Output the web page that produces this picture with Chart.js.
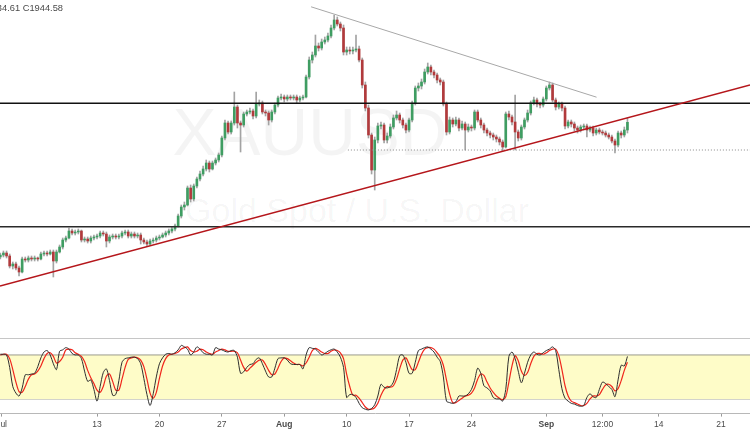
<!DOCTYPE html>
<html><head><meta charset="utf-8">
<script src="https://cdn.jsdelivr.net/npm/chart.js@4.4.0/dist/chart.umd.min.js"></script>
<style>
html,body{margin:0;padding:0;background:#fff;width:750px;height:430px;overflow:hidden;position:relative;font-family:"Liberation Sans",Arial,sans-serif}
.wm{position:absolute;left:0;text-align:center;color:rgba(0,0,0,0.045);white-space:nowrap}
#wm1{top:99px;width:620px;font-size:66px;line-height:66px}
#wm2{top:193px;width:714px;font-size:34px;line-height:34px}
#hdr{position:absolute;right:687px;top:2px;font-size:9.3px;line-height:12px;color:#4a4a4a;white-space:nowrap}
#sep{position:absolute;left:0;top:338px;width:750px;height:1px;background:#c6c6c6}
#c1{position:absolute;left:0;top:0}
#c2{position:absolute;left:0;top:330px}
</style></head>
<body>
<div class="wm" id="wm1">XAUUSD</div>
<div class="wm" id="wm2">Gold Spot / U.S. Dollar</div>
<div id="sep"></div>
<canvas id="c1" width="750" height="338"></canvas>
<canvas id="c2" width="750" height="100"></canvas>
<div id="hdr">L1934.61 C1944.58</div>
<script>
// ---- data (4-hour candles, index 1..202; 4 candles per trading day) ----
const opens = [
1776.25,1778.75,1781.25,1777.5,1765,1767.5,1762.5,1757.5,1773.75,1772.5,
1775,1773.75,1775,1773.75,1780,1781.25,1780,1782.5,1771.25,1782.5,
1788.75,1797.5,1800,1808.75,1806.25,1807.5,1808.75,1797.5,1798.75,1796.25,
1800,1801.25,1802.5,1806.25,1805,1796.25,1801.25,1802.5,1801.25,1802.5,
1806.25,1807.5,1802.5,1805,1802.5,1803.75,1797.5,1795,1792.5,1796.25,
1797.5,1800,1801.25,1803.75,1806.25,1808.75,1811.25,1815,1827.5,1838.75,
1841.25,1862.5,1848.75,1865,1873.75,1880,1886.25,1893.75,1886.25,1893.75,
1897.5,1903.75,1925,1943.75,1932.5,1943.75,1963.75,1943.75,1941.25,1955,
1957.5,1958.75,1952.5,1967.5,1968.75,1957.5,1956.25,1947.5,1957.5,1966.25,
1975,1976.25,1973.75,1976.25,1975,1976.25,1972.5,1975,1976.25,2001.25,
2022.5,2028.75,2040,2037.5,2045,2047.5,2052.5,2062.5,2072.5,2067.5,
2062.5,2032.5,2035,2033.75,2035,2036.25,2022.5,1991.25,1962.5,1928.75,
1885,1922.5,1940,1941.25,1922.5,1927.5,1938.75,1950,1953.75,1947.5,
1941.25,1935,1947.5,1968.75,1987.5,1990,1995,2007.5,2013.75,2007.5,
2003.75,1997.5,1995,1967.5,1932.5,1947.5,1942.5,1947.5,1937.5,1942.5,
1935,1938.75,1937.5,1957.5,1947.5,1941.25,1935,1931.25,1928.75,1926.25,
1923.75,1920,1913.75,1955,1951.25,1945,1932.5,1925,1938.75,1947.5,
1956.25,1968.75,1972.5,1967.5,1966.25,1973.75,1987.5,1991.25,1972.5,1963.75,
1967.5,1962.5,1940,1945,1942.5,1937.5,1935,1938.75,1940,1935,
1937.5,1931.25,1935,1932.5,1931.25,1928.75,1926.25,1921.25,1916.25,1931.25,
1928.75,1935];
const highs = [
1781.25,1783.75,1783.75,1780,1770,1770,1765,1776.25,1776.25,1777.5,
1777.5,1777.5,1776.25,1782.5,1783.75,1783.75,1785,1785,1785,1791.25,
1800,1802.5,1812.5,1811.25,1810,1811.25,1810,1801.25,1801.25,1802.5,
1803.75,1805,1808.75,1808.75,1807.5,1803.75,1805,1805,1805,1808.75,
1810,1810,1807.5,1807.5,1806.25,1806.25,1800,1797.5,1798.75,1800,
1802.5,1803.75,1806.25,1808.75,1811.25,1813.75,1817.5,1830,1841.25,1845,
1865,1866.25,1867.5,1876.25,1883.75,1890,1897.5,1896.25,1896.25,1900,
1906.25,1927.5,1947.5,1946.25,1946.25,1982.5,1966.25,1946.25,1957.5,1960,
1962.5,1961.25,1982.5,1972.5,1971.25,1960,1958.75,1960,1968.75,1977.5,
1980,1978.75,1978.75,1978.75,1978.75,1978.75,1977.5,1978.75,2003.75,2026.25,
2032.5,2053.75,2043.75,2048.75,2051.25,2056.25,2066.25,2078.75,2076.25,2070,
2066.25,2038.75,2038.75,2038.75,2053.75,2040,2025,1995,1966.25,1931.25,
1926.25,1943.75,1945,1943.75,1931.25,1942.5,1953.75,1958.75,1956.25,1950,
1943.75,1950,1971.25,1990,1993.75,1998.75,2011.25,2018.75,2016.25,2010,
2006.25,2000,1997.5,1970,1951.25,1950,1951.25,1950,1946.25,1945,
1942.5,1941.25,1960,1960,1950,1943.75,1937.5,1933.75,1931.25,1928.75,
1926.25,1922.5,1957.5,1958.75,1953.75,1978.75,1935,1941.25,1950,1960,
1971.25,1976.25,1975,1970,1976.25,1990,1995,1993.75,1975,1970,
1970,1965,1947.5,1947.5,1945,1940,1941.25,1942.5,1942.5,1940,
1940,1937.5,1937.5,1935,1933.75,1931.25,1928.75,1923.75,1933.75,1933.75,
1938.75,1950];
const lows = [
1773.75,1776.25,1775,1762.5,1761.25,1760,1752.5,1756.25,1770,1770,
1771.25,1771.25,1771.25,1772.5,1777.5,1777.5,1778.75,1751.25,1768.75,1781.25,
1786.25,1795,1798.75,1803.75,1803.75,1805,1795,1795,1793.75,1793.75,
1797.5,1798.75,1800,1802.5,1788.75,1793.75,1798.75,1798.75,1798.75,1800,
1803.75,1800,1800,1800,1800,1792.5,1792.5,1790,1791.25,1793.75,
1795,1797.5,1800,1801.25,1803.75,1806.25,1808.75,1813.75,1825,1835,
1840,1845,1846.25,1862.5,1871.25,1877.5,1883.75,1882.5,1885,1891.25,
1895,1901.25,1922.5,1930,1930,1941.25,1937.5,1907.5,1938.75,1952.5,
1955,1948.75,1950,1965,1955,1952.5,1941.25,1945,1955,1963.75,
1972.5,1970,1971.25,1972.5,1972.5,1968.75,1970,1972.5,1975,1998.75,
2018.75,2026.25,2033.75,2035,2042.5,2045,2050,2060,2065,2058.75,
2028.75,2028.75,2030,2030,2032.5,2020,1987.5,1958.75,1925,1880,
1860,1918.75,1936.25,1918.75,1918.75,1925,1936.25,1947.5,1943.75,1937.5,
1931.25,1932.5,1945,1966.25,1983.75,1986.25,1992.5,2005,2003.75,2000,
1993.75,1991.25,1965,1928.75,1930,1938.75,1940,1933.75,1935,1910,
1932.5,1933.75,1935,1945,1937.5,1931.25,1927.5,1925,1922.5,1920,
1916.25,1908.75,1912.5,1947.5,1941.25,1910,1921.25,1922.5,1936.25,1945,
1953.75,1966.25,1963.75,1962.5,1963.75,1971.25,1985,1970,1960,1961.25,
1958.75,1936.25,1937.5,1938.75,1933.75,1931.25,1932.5,1935,1926.25,1932.5,
1927.5,1928.75,1930,1928.75,1926.25,1923.75,1918.75,1906.25,1913.75,1925,
1926.25,1931.25];
const closes = [
1778.75,1781.25,1777.5,1765,1767.5,1762.5,1757.5,1773.75,1772.5,1775,
1773.75,1775,1773.75,1780,1781.25,1780,1782.5,1771.25,1782.5,1788.75,
1797.5,1800,1808.75,1806.25,1807.5,1808.75,1797.5,1798.75,1796.25,1800,
1801.25,1802.5,1806.25,1805,1796.25,1801.25,1802.5,1801.25,1802.5,1806.25,
1807.5,1802.5,1805,1802.5,1803.75,1797.5,1795,1792.5,1796.25,1797.5,
1800,1801.25,1803.75,1806.25,1808.75,1811.25,1815,1827.5,1838.75,1841.25,
1862.5,1848.75,1865,1873.75,1880,1886.25,1893.75,1886.25,1893.75,1897.5,
1903.75,1925,1943.75,1932.5,1943.75,1963.75,1943.75,1941.25,1955,1957.5,
1958.75,1952.5,1967.5,1968.75,1957.5,1956.25,1947.5,1957.5,1966.25,1975,
1976.25,1973.75,1976.25,1975,1976.25,1972.5,1975,1976.25,2001.25,2022.5,
2028.75,2040,2037.5,2045,2047.5,2052.5,2062.5,2072.5,2067.5,2062.5,
2032.5,2035,2033.75,2035,2036.25,2022.5,1991.25,1962.5,1928.75,1885,
1922.5,1940,1941.25,1922.5,1927.5,1938.75,1950,1953.75,1947.5,1941.25,
1935,1947.5,1968.75,1987.5,1990,1995,2007.5,2013.75,2007.5,2003.75,
1997.5,1995,1967.5,1932.5,1947.5,1942.5,1947.5,1937.5,1942.5,1935,
1938.75,1937.5,1957.5,1947.5,1941.25,1935,1931.25,1928.75,1926.25,1923.75,
1920,1913.75,1955,1951.25,1945,1932.5,1925,1938.75,1947.5,1956.25,
1968.75,1972.5,1967.5,1966.25,1973.75,1987.5,1991.25,1972.5,1963.75,1967.5,
1962.5,1940,1945,1942.5,1937.5,1935,1938.75,1940,1935,1937.5,
1931.25,1935,1932.5,1931.25,1928.75,1926.25,1921.25,1916.25,1931.25,1928.75,
1935,1944.58];
// Stochastic %K (black) and %D (red), one value per candle
const stochK = [
81,81,80,63,37,28,24,35,53,53, 54,55,64,76,84,86,80,68,60,85,
87,90,88,82,80,80,75,58,44,46, 33,17,37,56,61,45,25,26,45,70,
75,76,77,77,75,68,48,26,11,27, 50,68,76,81,82,81,83,87,93,91,
88,80,84,91,88,83,81,81,80,90, 88,87,85,84,86,86,77,55,57,63,
67,68,74,76,68,58,50,50,62,75, 76,76,73,68,67,67,67,61,80,90,
89,88,84,80,82,85,87,88,84,77, 63,22,26,26,22,14,8,6,5,7,
12,24,40,36,35,37,43,60,79,80, 70,55,55,70,86,88,90,91,88,84,
77,71,50,17,15,14,16,24,24,24, 27,33,45,62,55,38,35,31,22,20,
20,17,33,78,84,75,58,42,55,70, 80,84,81,80,83,86,88,91,86,60,
34,21,17,14,13,11,10,11,22,27, 23,22,33,43,41,37,33,23,46,66,
65,78];
const stochD = [
80,81,81,75,60,43,30,29,37,47, 53,54,58,65,75,82,83,78,69,71,
77,87,88,87,83,81,78,71,59,49, 41,32,29,37,51,54,44,32,32,47,
63,74,76,77,76,73,64,47,28,21, 29,48,65,75,80,81,82,84,88,90,
91,86,84,85,88,87,84,82,81,84, 86,88,87,85,85,85,83,73,63,58,
62,66,70,73,73,67,59,53,54,62, 71,76,75,72,69,67,67,65,69,77,
86,89,87,84,82,82,85,87,86,83, 75,54,37,25,25,21,15,9,6,6,
8,14,25,33,37,36,38,47,61,73, 76,68,60,60,70,81,88,90,90,88,
83,77,66,46,27,15,15,18,21,24, 25,28,35,47,54,52,43,35,29,24,
21,19,23,43,65,79,72,58,52,56, 68,78,82,82,81,83,86,88,88,79,
60,38,24,17,15,13,11,11,14,20, 24,24,26,33,39,40,37,31,34,45,
59,70];
// x-axis labels (position in candle-index units)
const tickLabels = ['Jul','13','20','27','Aug','10','17','24','Sep','12:00','14','21'];
const tickPos    = [1.4,32,52,72,92,112,132,152,176,194,212,232];
// drawn levels / trendlines (candle index, price)
const resistance = 1968.5;
const support = 1814;
const dottedLevel = [[112.4,1910],[241.3,1910]];
const risingTrend = [[0.9,1740],[241.3,1991.25]];
const fallingTrend = [[100.6,2089],[192.1,1976]];
const stochBands = [80,20];

const X_MIN = 0.9, X_MAX = 241.28;
const idx = closes.map((_, k) => k + 1);
const UP = '#3f9d62', DN = '#b13a3c', WICK = '#a3a3a3';

const pts = a => a.map(p => ({x: p[0], y: p[1]}));
const hline = v => [{x: X_MIN, y: v}, {x: X_MAX, y: v}];

new Chart(document.getElementById('c1'), {
  type: 'bar',
  data: {
    datasets: [
      {type:'line', data: hline(resistance), borderColor:'#111', borderWidth:1.4, pointRadius:0, order:1},
      {type:'line', data: hline(support), borderColor:'#2a2a2a', borderWidth:1.4, pointRadius:0, order:1},
      {type:'line', data: pts(dottedLevel), borderColor:'#8a8a8a', borderWidth:1, borderDash:[1,2], pointRadius:0, order:1},
      {type:'line', data: pts(risingTrend), borderColor:'#b5161b', borderWidth:1.6, pointRadius:0, order:0},
      {type:'line', data: pts(fallingTrend), borderColor:'#a8a8a8', borderWidth:1, pointRadius:0, order:1},
      {label:'wick', data: idx.map((x, k) => ({x, y:[lows[k], highs[k]]})), backgroundColor: WICK,
        barThickness: 1, grouped:false, order:5},
      {label:'body', data: idx.map((x, k) => ({x, y:[opens[k], closes[k]]})),
        backgroundColor: idx.map((x, k) => closes[k] >= opens[k] ? UP : DN),
        barThickness: 2, minBarLength: 1, grouped:false, order:4}
    ]
  },
  options: {
    responsive:false, animation:false, devicePixelRatio:1, events:[],
    layout:{padding:0},
    plugins:{legend:{display:false}, tooltip:{enabled:false}},
    scales:{
      x:{type:'linear', min:X_MIN, max:X_MAX, display:false, offset:false},
      y:{min:1675, max:2097.5, display:false, beginAtZero:false}
    }
  }
});

new Chart(document.getElementById('c2'), {
  type: 'line',
  data: {
    datasets: [
      {data: hline(stochBands[0]), borderColor:'#9b9b8c', borderWidth:1, pointRadius:0,
        fill:'+1', backgroundColor:'#fefcc8', order:5},
      {data: hline(stochBands[1]), borderColor:'#9b9b8c', borderWidth:1, pointRadius:0, order:5},
      {data: idx.map((x, k) => ({x, y: stochD[k]})), borderColor:'#f0261c', borderWidth:1.2, pointRadius:0, tension:0.3, order:2},
      {data: idx.map((x, k) => ({x, y: stochK[k]})), borderColor:'#2f2f2f', borderWidth:1, pointRadius:0, tension:0.3, order:1}
    ]
  },
  options: {
    responsive:false, animation:false, devicePixelRatio:1, events:[],
    layout:{padding:{top:10.3, left:0, right:0, bottom:0}},
    plugins:{legend:{display:false}, tooltip:{enabled:false}},
    scales:{
      x:{type:'linear', min:X_MIN, max:X_MAX, offset:false,
        border:{display:true, color:'#b8b8b8', width:1},
        grid:{display:true, drawOnChartArea:false, drawTicks:true, tickLength:3, color:'#9a9a9a'},
        afterBuildTicks: s => { s.ticks = tickPos.map(v => ({value: v})); },
        afterFit: s => { s.height = 16.4; s.paddingLeft = 0; s.paddingRight = 0; },
        ticks:{autoSkip:false, maxRotation:0, minRotation:0, padding:3, color:'#4a4a4a',
          callback: (v, i) => tickLabels[i],
          font: c => ({family:'"Liberation Sans", Arial, sans-serif', size:8.5,
            weight: (c.tick && (c.tick.label === 'Aug' || c.tick.label === 'Sep')) ? 'bold' : 'normal'})}
      },
      y:{min:0, max:100, display:false}
    }
  }
});
</script>
</body></html>
